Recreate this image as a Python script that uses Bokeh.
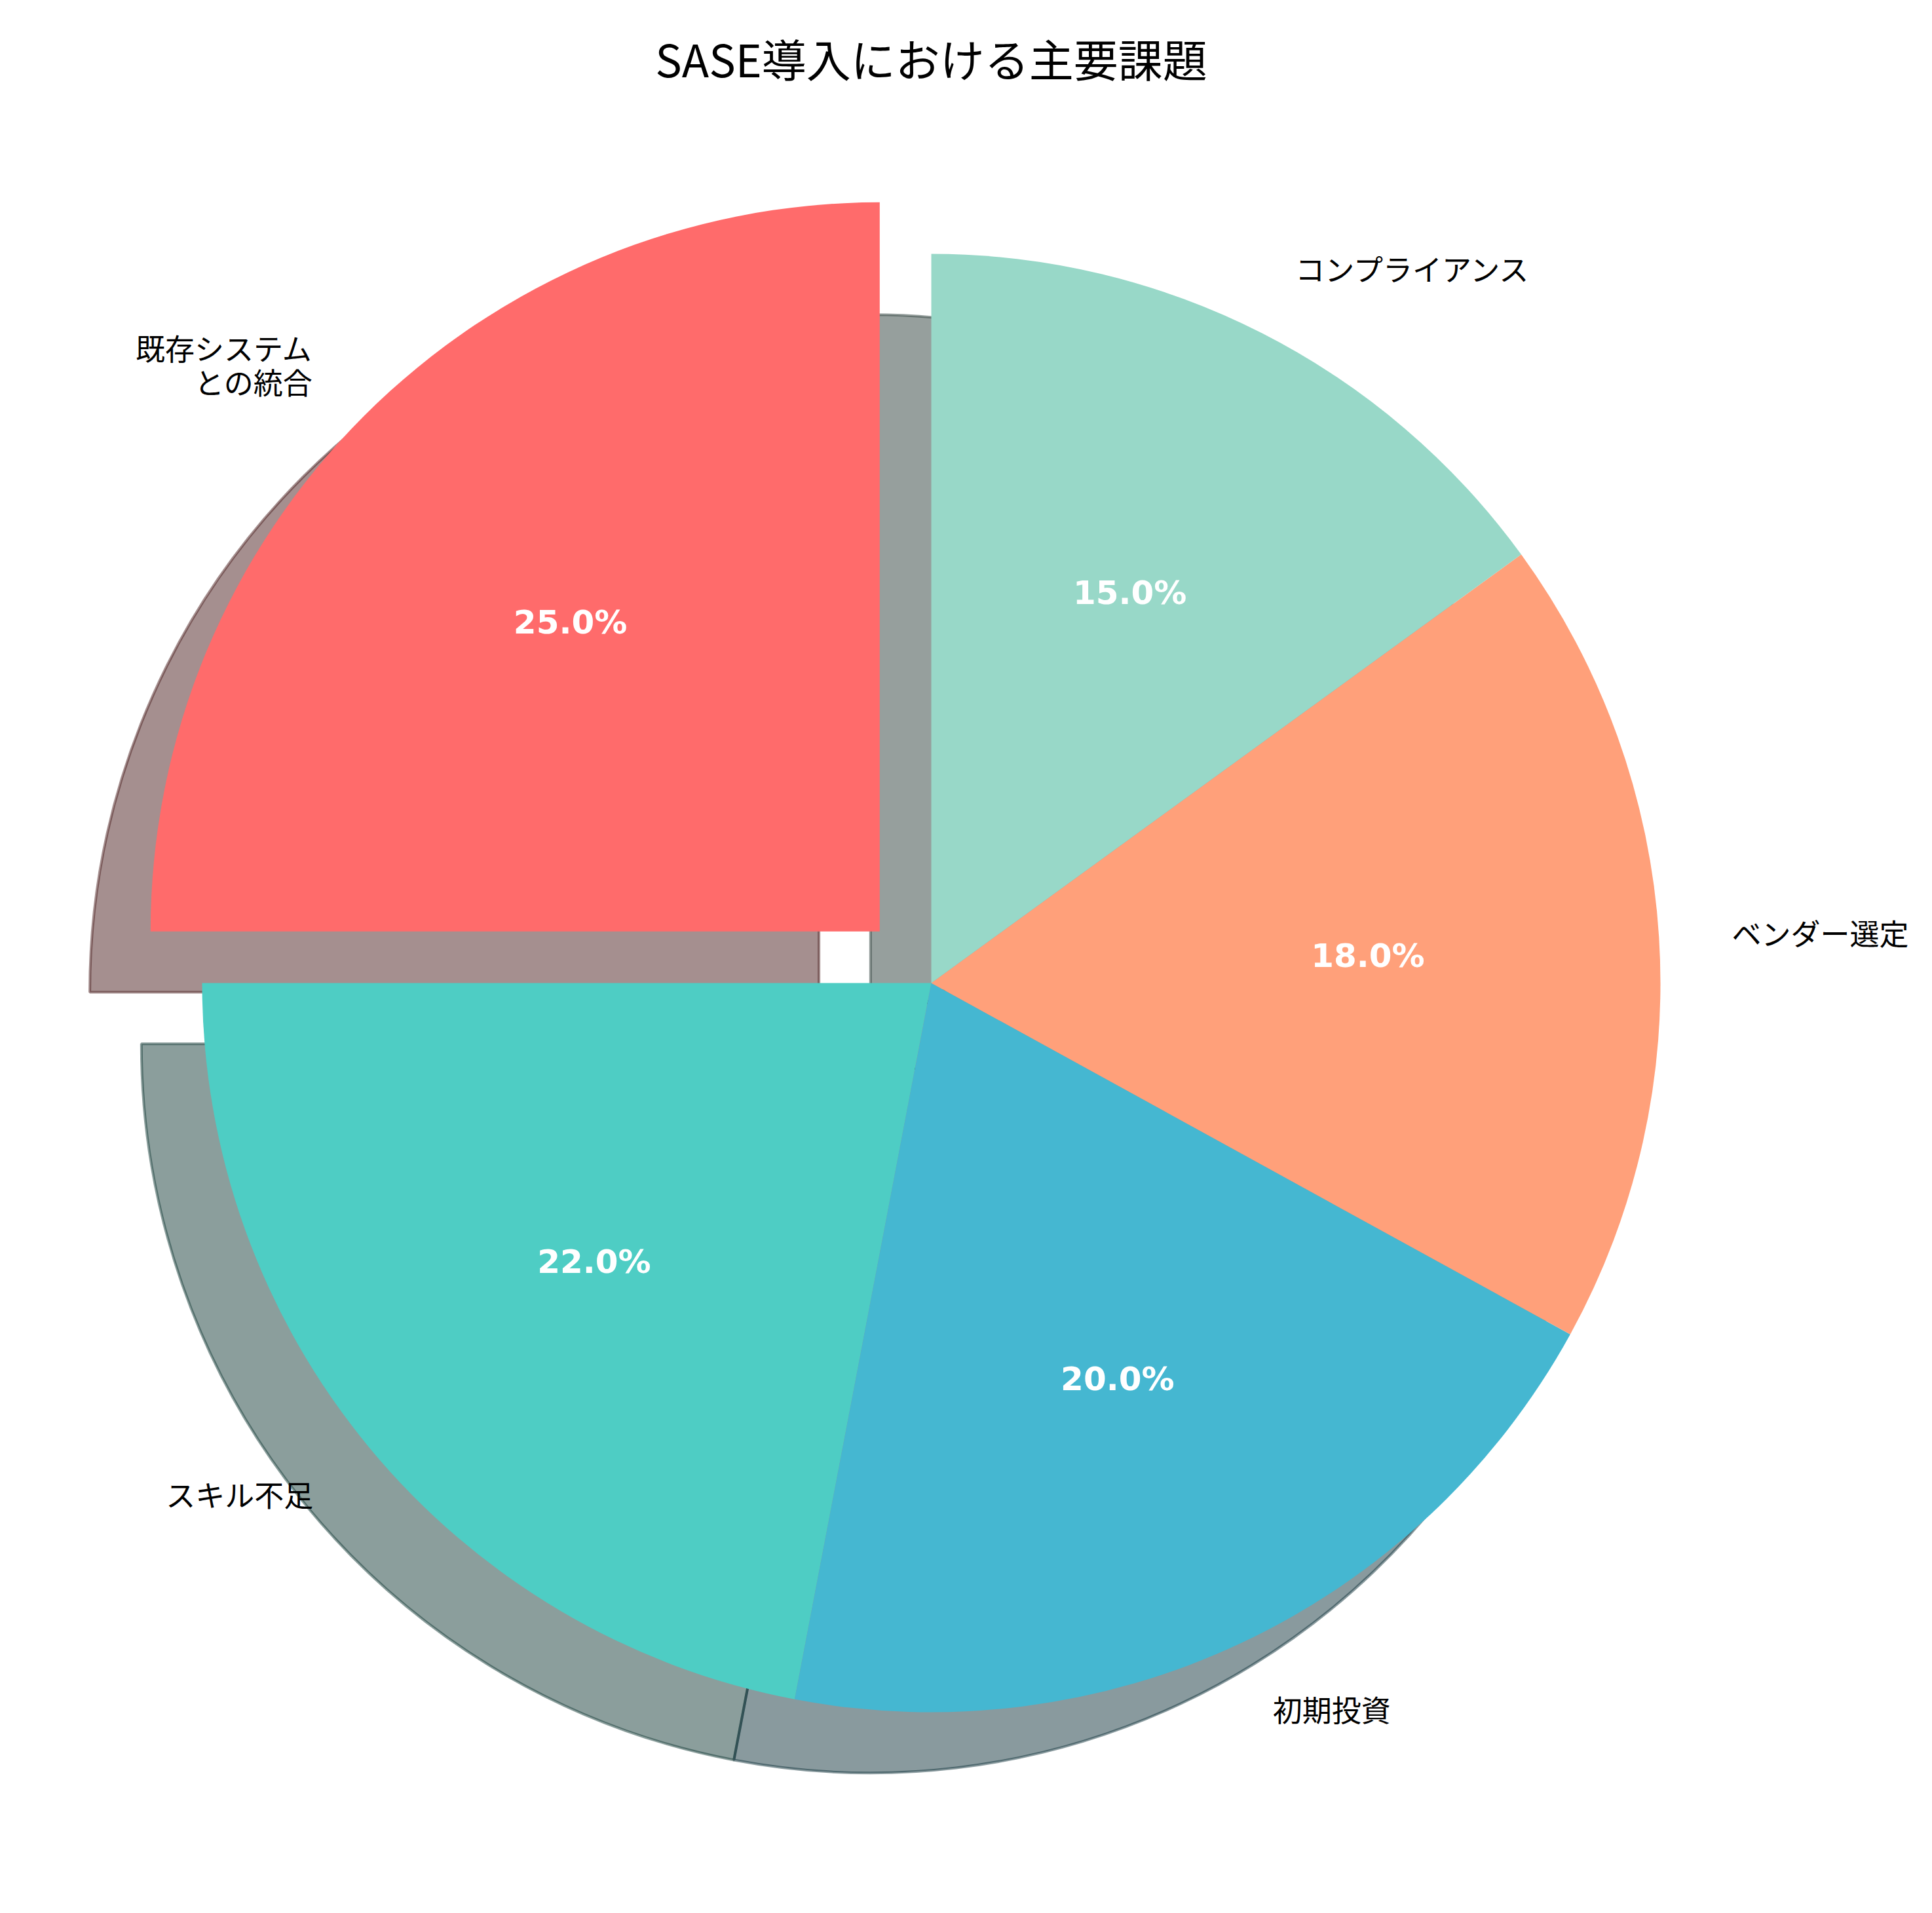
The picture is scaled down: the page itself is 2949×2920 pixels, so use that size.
import math
from bokeh.plotting import figure
from bokeh.models import Range1d, ColumnDataSource
from bokeh.core.properties import value
from bokeh.embed import file_html
from bokeh.resources import INLINE

# ---- data ----
TITLE = "SASE導入における主要課題"
categories = ["既存システム\nとの統合", "スキル不足", "初期投資", "ベンダー選定", "コンプライアンス"]
shares = [25, 22, 20, 18, 15]
colors = ["#FF6B6B", "#4ECDC4", "#45B7D1", "#FFA07A", "#98D8C8"]
explode = [0.1, 0, 0, 0, 0]

# ---- layout ----
W, H = 2933, 2904
MARGIN = 8
CX, CY = 1429, 1508      # page pixel of pie centre
R = 1113.0               # pixels per data unit (pie radius = 1)
SHADOW = 0.0833          # shadow offset (data units)
TITLE_BASELINE = CY - 1412

def px(X, Y):
    return (X - CX) / R, (CY - Y) / R

p = figure(width=W, height=H, output_backend="svg", toolbar_location=None,
           x_range=Range1d((MARGIN - CX) / R, (MARGIN + W - CX) / R),
           y_range=Range1d((CY - (MARGIN + H)) / R, (CY - MARGIN) / R),
           min_border=0, x_axis_location=None, y_axis_location=None,
           background_fill_color="white", border_fill_color="white")
p.grid.visible = False
p.outline_line_color = None

total = float(sum(shares))
start = math.pi / 2
rows = []
for cat, v, c, e in zip(categories, shares, colors, explode):
    sweep = 2 * math.pi * v / total
    end = start + sweep
    mid = (start + end) / 2
    ox, oy = e * math.cos(mid), e * math.sin(mid)
    rows.append(dict(cat=cat, v=v, c=c, s=start, e=end, mid=mid, ox=ox, oy=oy))
    start = end

def shade(hexc):
    r, g, b = int(hexc[1:3], 16), int(hexc[3:5], 16), int(hexc[5:7], 16)
    return "#%02x%02x%02x" % (int(r * 0.3), int(g * 0.3), int(b * 0.3))

# shadows first (behind all wedges)
sh = ColumnDataSource(dict(
    x=[r["ox"] - SHADOW for r in rows], y=[r["oy"] - SHADOW for r in rows],
    s=[r["s"] for r in rows], e=[r["e"] for r in rows],
    c=[shade(r["c"]) for r in rows]))
p.wedge(x="x", y="y", radius=1.0, start_angle="s", end_angle="e", direction="anticlock",
        fill_color="c", fill_alpha=0.5, line_color="c", line_alpha=0.5, line_width=4,
        source=sh)

wd = ColumnDataSource(dict(
    x=[r["ox"] for r in rows], y=[r["oy"] for r in rows],
    s=[r["s"] for r in rows], e=[r["e"] for r in rows], c=[r["c"] for r in rows]))
p.wedge(x="x", y="y", radius=1.0, start_angle="s", end_angle="e", direction="anticlock",
        fill_color="c", line_color=None, source=wd)

# category labels
for r in rows:
    lx = r["ox"] + 1.1 * math.cos(r["mid"])
    ly = r["oy"] + 1.1 * math.sin(r["mid"])
    p.text(x=[lx], y=[ly], text=[r["cat"]], text_align="left" if lx > 0 else "right",
           text_baseline="middle", text_font=value("Noto Sans CJK JP"),
           text_font_size="45px", text_color="black", text_line_height=0.8)

# percentage labels
for r in rows:
    tx = r["ox"] + 0.6 * math.cos(r["mid"])
    ty = r["oy"] + 0.6 * math.sin(r["mid"])
    p.text(x=[tx], y=[ty], text=["%.1f%%" % (100.0 * r["v"] / total)], text_align="center",
           text_baseline="middle", text_font=value("DejaVu Sans"), text_font_style="bold",
           text_font_size="50px", text_color="white")

# title
tx, ty = px(CX, TITLE_BASELINE)
p.text(x=[tx], y=[ty], text=[TITLE], text_align="center", text_baseline="alphabetic",
       text_font=value("Noto Sans CJK JP"), text_font_size="68px", text_color="black")

open("out.html", "w").write(file_html(p, INLINE))
